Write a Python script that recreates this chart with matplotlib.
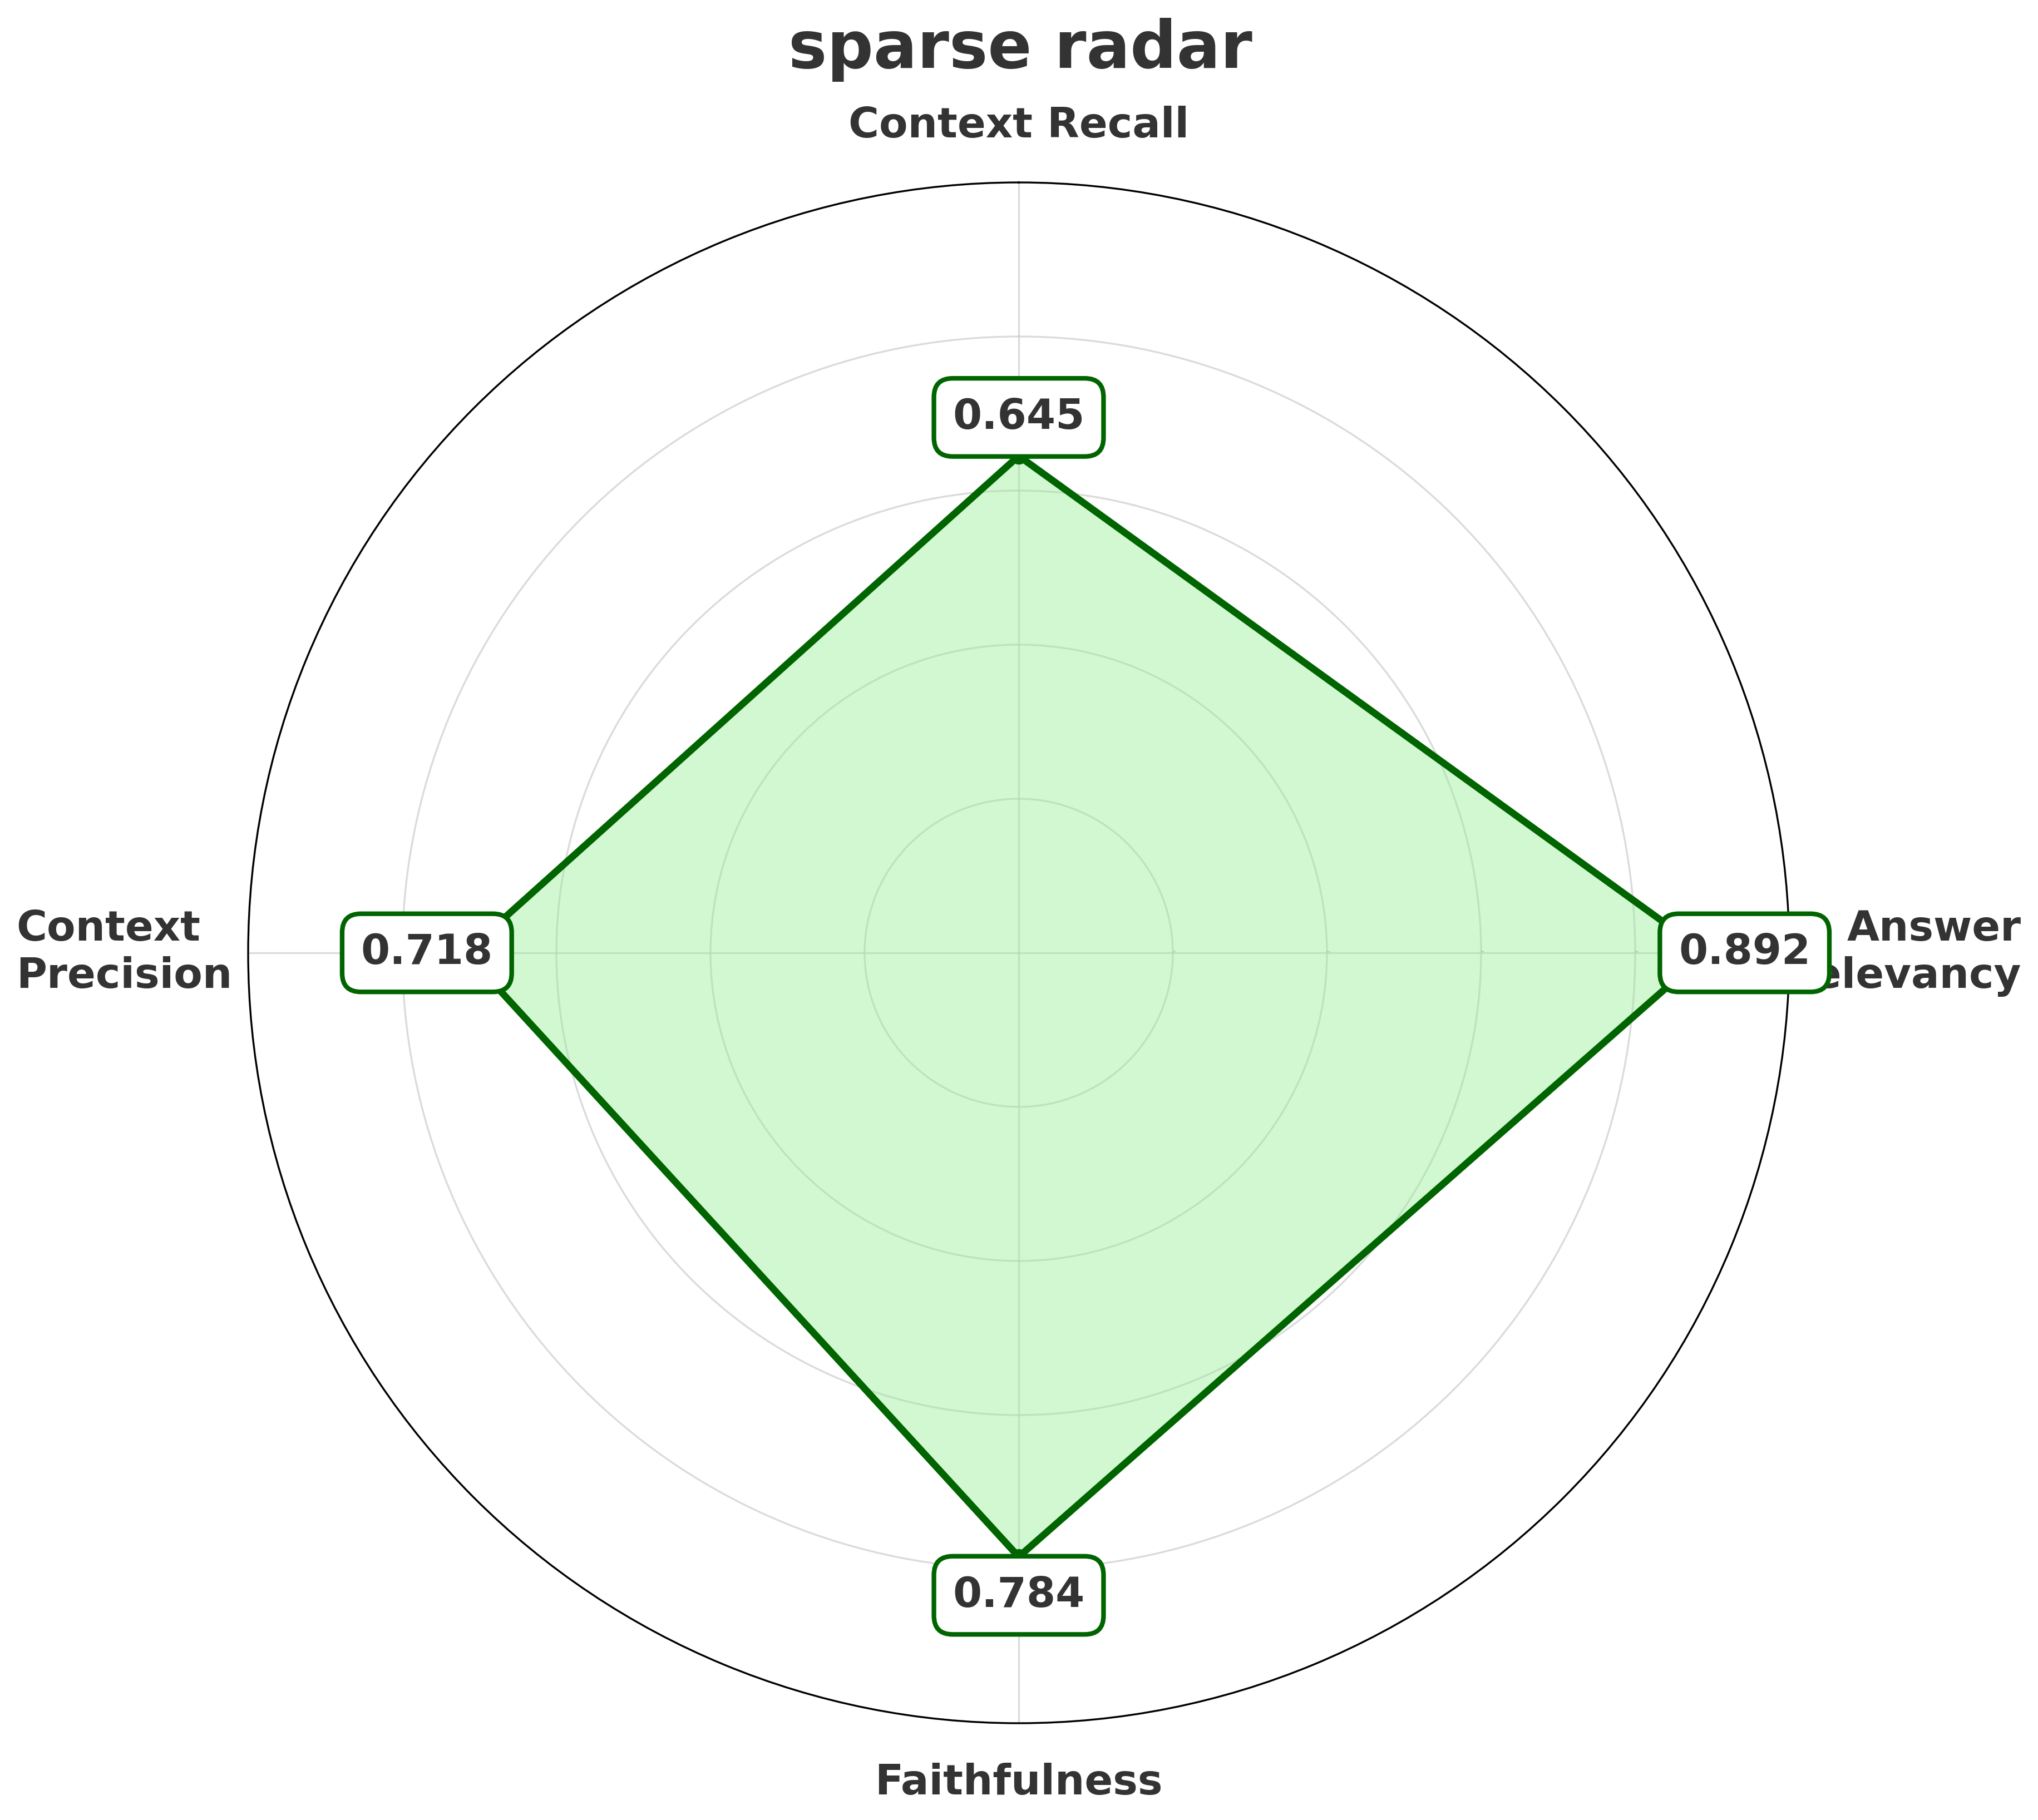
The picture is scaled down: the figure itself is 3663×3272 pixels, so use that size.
import numpy as np
import matplotlib
matplotlib.use("Agg")
import matplotlib.pyplot as plt

# data
categories = ["Context Recall", "Answer\nRelevancy", "Faithfulness", "Context\nPrecision"]
scores = [0.645, 0.892, 0.784, 0.718]
rticks = [0.2, 0.4, 0.6, 0.8, 1.0]
rtick_labels = ["0.2", "0.4", "0.6", "0.8", "1.0"]

txt_color = "#333333"
line_color = "darkgreen"
fill_color = "lightgreen"

n = len(categories)
angles = np.linspace(0, 2 * np.pi, n, endpoint=False)

fig = plt.figure(figsize=(3663 / 300, 3272 / 300), dpi=300)
ax = fig.add_axes([0.12176, 0.05318, 0.75621, 0.84658], projection="polar")
ax.set_theta_offset(np.pi / 2)
ax.set_theta_direction(-1)
ax.set_ylim(0, 1.0)

# polygon
ang_c = np.append(angles, angles[0])
val_c = np.append(scores, scores[0])
ax.fill(ang_c, val_c, color=fill_color, alpha=0.4, zorder=2)
ax.plot(ang_c, val_c, color=line_color, lw=3, marker="o", markersize=6, zorder=3)

# grid
ax.set_xticks(angles)
ax.set_xticklabels([""] * n)
ax.set_yticks(rticks)
ax.set_yticklabels(rtick_labels, fontsize=0.6, color="gray")
ax.set_rlabel_position(90)
ax.grid(True, color="#cccccc", alpha=0.7, lw=0.8)
ax.spines["polar"].set_color("black")
ax.spines["polar"].set_linewidth(0.8)
ax.tick_params(axis="x", length=0)

# category labels (placed by hand, offsets in points)
lab_opts = [
    dict(xytext=(0, 19.4), ha="center", va="baseline", ma="center"),
    dict(xytext=(100, 0), ha="right", va="center", ma="right"),
    dict(xytext=(0, -30.7), ha="center", va="baseline", ma="center"),
    dict(xytext=(-100, 0), ha="left", va="center", ma="left"),
]
for a, lab, o in zip(angles, categories, lab_opts):
    ax.annotate(lab, xy=(a, 1.0), textcoords="offset points",
                fontsize=18, fontweight="bold", color=txt_color,
                annotation_clip=False, zorder=4, **o)

# value boxes
for a, v in zip(angles, scores):
    ax.text(a, v + 0.05, f"{v:.3f}", ha="center", va="center",
            fontsize=18, fontweight="bold", color=txt_color, zorder=10,
            bbox=dict(boxstyle="round,pad=0.45", facecolor="white",
                      edgecolor=line_color, linewidth=2))

fig.text(0.5007, 0.96271, "sparse radar", ha="center", va="baseline",
         fontsize=28, fontweight="bold", color=txt_color)

fig.savefig("out.png", dpi=300, facecolor="white")
